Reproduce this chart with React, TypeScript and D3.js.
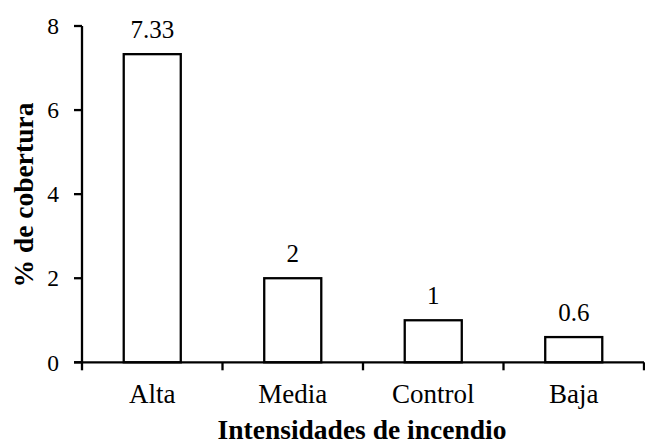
import React from "react";
import * as d3 from "d3";

const categories = ["Alta", "Media", "Control", "Baja"];
const values = [7.33, 2, 1, 0.6];
const valueLabels = ["7.33", "2", "1", "0.6"];
const yTicks = [0, 2, 4, 6, 8];

const W = 645;
const H = 445;
const left = 82;
const right = 644;
const top = 26;
const bottom = 362.3;
const font = "'Liberation Serif', 'Times New Roman', serif";

export default function App() {
  const x = d3
    .scaleBand<string>()
    .domain(categories)
    .range([left, right])
    .paddingInner(0.594)
    .paddingOuter(0.297);
  const y = d3.scaleLinear().domain([0, 8]).range([bottom, top]);
  const step = x.step();
  const bw = x.bandwidth();
  const boundaries = categories.map((c) => (x(c) as number) - (step - bw) / 2);
  boundaries.push(right);

  return (
    <svg
      width={W}
      height={H}
      style={{ position: "absolute", left: 0, top: 0, background: "#fff" }}
    >
      {categories.map((c, i) => (
        <rect
          key={c}
          x={x(c)}
          y={y(values[i])}
          width={bw}
          height={y(0) - y(values[i])}
          fill="#fff"
          stroke="#000"
          strokeWidth={2.3}
        />
      ))}
      {categories.map((c, i) => (
        <text
          key={c + "v"}
          x={(x(c) as number) + bw / 2}
          y={y(values[i]) - 16}
          textAnchor="middle"
          fontFamily={font}
          fontSize={25}
          fill="#000"
        >
          {valueLabels[i]}
        </text>
      ))}
      <line x1={left} x2={left} y1={y(8)} y2={y(0)} stroke="#000" strokeWidth={2.3} />
      {yTicks.map((t) => (
        <g key={t}>
          <line x1={left - 8} x2={left} y1={y(t)} y2={y(t)} stroke="#000" strokeWidth={2.3} />
          <text
            x={59}
            y={y(t)}
            dy="0.35em"
            textAnchor="end"
            fontFamily={font}
            fontSize={23.5}
            fill="#000"
          >
            {t}
          </text>
        </g>
      ))}
      <line x1={left - 8} x2={right} y1={y(0)} y2={y(0)} stroke="#000" strokeWidth={2.3} />
      {boundaries.map((b, i) => (
        <line key={i} x1={b} x2={b} y1={y(0)} y2={y(0) + 8} stroke="#000" strokeWidth={2.3} />
      ))}
      {categories.map((c) => (
        <text
          key={c + "l"}
          x={(x(c) as number) + bw / 2}
          y={403}
          textAnchor="middle"
          fontFamily={font}
          fontSize={27}
          fill="#000"
        >
          {c}
        </text>
      ))}
      <text
        x={362}
        y={439}
        textAnchor="middle"
        fontFamily={font}
        fontSize={27.5}
        fontWeight="bold"
        fill="#000"
      >
        Intensidades de incendio
      </text>
      <text
        transform={`translate(33, 195) rotate(-90)`}
        textAnchor="middle"
        fontFamily={font}
        fontSize={27.5}
        fontWeight="bold"
        fill="#000"
      >
        % de cobertura
      </text>
    </svg>
  );
}
